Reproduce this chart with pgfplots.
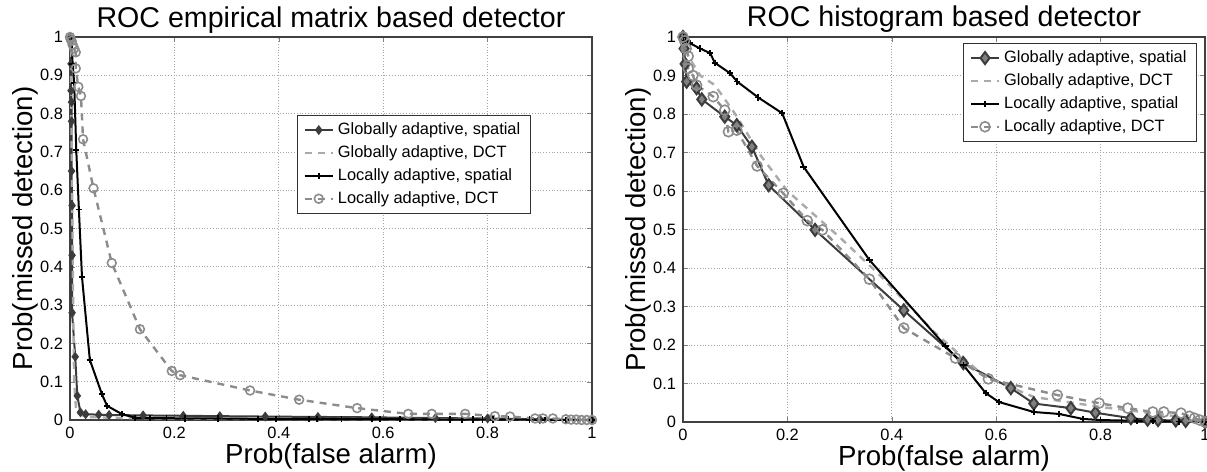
\documentclass[border=0pt]{standalone}
\usepackage{fontspec}
\setmainfont{Liberation Sans}
\usepackage{pgfplots}
\pgfplotsset{compat=1.18}

\definecolor{gaspat}{HTML}{3C3C3C}
\definecolor{gadct}{HTML}{AAAAAA}
\definecolor{ladct}{HTML}{8C8C8C}

\pgfplotsset{
  rocaxis/.style={
    scale only axis,
    width=261pt,
    xmin=0, xmax=1, ymin=0, ymax=1,
    xtick={0,0.2,...,1},
    ytick={0,0.1,...,1},
    /pgf/number format/assume math mode=true,
    tick label style={font=\fontsize{8.2}{9}\selectfont},
    tick align=inside,
    major tick length=2.5pt,
    axis line style={black!75, line width=0.6pt},
    grid=major,
    major grid style={densely dotted, gray!70, line width=0.4pt},
    every axis title shift=0pt,
    title style={font=\fontsize{14.3}{16}\selectfont, anchor=base},
    xlabel style={font=\fontsize{13.8}{16}\selectfont, anchor=base, at={(axis description cs:0.5,-0.1123)}},
    xlabel={Prob(false alarm)},
    ylabel={Prob(missed detection)},
    legend cell align=left,
    legend style={font=\fontsize{8.2}{9.5}\selectfont, draw=black!80, line width=0.5pt,
      inner xsep=3pt, inner ysep=1.5pt, anchor=north west},
    legend image code/.code={
      \draw[mark repeat=2,mark phase=2] plot coordinates {(0pt,0pt) (7pt,0pt) (14pt,0pt)};},
  },
  gasp/.style={gaspat, line width=1pt, mark=diamond*, mark options={solid, fill=gaspat}},
  gadc/.style={gadct, line width=1.2pt, dash pattern=on 3.5pt off 3pt},
  lasp/.style={black, line width=1pt, mark=+, mark size=1.6pt, mark options={solid, line width=0.8pt}},
  ladc/.style={ladct, line width=1.2pt, dash pattern=on 3.5pt off 3pt, mark=o, mark options={solid, line width=0.8pt}},
}

\begin{document}
\begin{tikzpicture}
\path[use as bounding box] (-35pt,-26pt) rectangle (568.5pt,210pt);

% left: empirical matrix based detector
\begin{axis}[
  rocaxis,
  at={(0pt,0pt)}, anchor=south west,
  height=191.5pt,
  title={ROC empirical matrix based detector},
  title style={at={(axis description cs:0.5,1.026)}},
  ylabel style={font=\fontsize{13.8}{16}\selectfont, anchor=base, at={(axis description cs:-0.0709,0.5)}},
  legend style={at={(axis description cs:0.435,0.796)}},
]
\addplot+[gasp, mark size=1.7pt] coordinates {
  (0,1) (0.002,0.93) (0.002,0.86) (0.003,0.83) (0.003,0.78) (0.003,0.65) (0.004,0.56)
  (0.004,0.43) (0.004,0.28) (0.010,0.165) (0.014,0.063) (0.02,0.02) (0.03,0.015)
  (0.055,0.014) (0.075,0.013) (0.14,0.012) (0.217,0.011) (0.287,0.010) (0.374,0.009)
  (0.475,0.008) (0.578,0.007) (0.70,0.005) (0.80,0.004) (0.90,0.002) (1,0)
};
\addlegendentry{Globally adaptive, spatial}
\addplot+[gadc, mark=none] coordinates {
  (0,1) (0.002,0.9) (0.004,0.6) (0.006,0.3) (0.008,0.1) (0.012,0.02) (0.03,0.008)
  (0.1,0.005) (0.3,0.003) (0.6,0.002) (1,0)
};
\addlegendentry{Globally adaptive, DCT}
\addplot+[lasp] coordinates {
  (0.003,1) (0.005,0.93) (0.008,0.88) (0.012,0.705) (0.017,0.55) (0.023,0.373)
  (0.038,0.157) (0.061,0.068) (0.071,0.037) (0.10,0.015) (0.125,0.006) (0.153,0.005)
  (0.185,0.005) (0.22,0.004) (0.284,0.004) (0.36,0.003) (0.395,0.003) (0.458,0.003)
  (0.473,0.003) (0.52,0.002) (0.578,0.002) (0.594,0.002) (0.632,0.002) (0.728,0.001)
  (0.751,0.001) (0.772,0.001) (0.79,0.001) (0.81,0.001) (0.84,0.001) (0.88,0.001)
  (0.91,0) (0.95,0) (1,0)
};
\addlegendentry{Locally adaptive, spatial}
\addplot+[ladc, mark size=2.2pt] coordinates {
  (0,1) (0.001,0.995) (0.003,0.99) (0.005,0.98) (0.008,0.97) (0.011,0.96) (0.011,0.918)
  (0.016,0.87) (0.021,0.846) (0.025,0.733) (0.045,0.605) (0.08,0.41) (0.134,0.237)
  (0.195,0.128) (0.211,0.117) (0.345,0.077) (0.439,0.053) (0.55,0.031) (0.648,0.016)
  (0.693,0.016) (0.757,0.016) (0.814,0.010) (0.843,0.009) (0.891,0.004) (0.906,0.004)
  (0.925,0.004) (0.95,0.002) (0.96,0.001) (0.97,0.001) (0.98,0) (0.99,0) (1,0)
};
\addlegendentry{Locally adaptive, DCT}
\end{axis}

% right: histogram based detector
\begin{axis}[
  rocaxis,
  at={(306.5pt,-1pt)}, anchor=south west,
  height=192.5pt,
  title={ROC histogram based detector},
  title style={at={(axis description cs:0.5,1.026)}},
  ylabel style={font=\fontsize{13.8}{16}\selectfont, anchor=base, at={(axis description cs:-0.0728,0.5)}},
  legend style={at={(axis description cs:0.537,0.984)}},
]
\addplot+[gasp, mark size=3pt, mark options={solid, fill=gray, draw=gaspat}] coordinates {
  (0,1) (0.002,0.97) (0.004,0.93) (0.007,0.884) (0.026,0.867) (0.036,0.838) (0.08,0.793)
  (0.103,0.771) (0.132,0.715) (0.164,0.615) (0.253,0.499) (0.423,0.29) (0.537,0.153)
  (0.628,0.088) (0.672,0.048) (0.743,0.036) (0.79,0.024) (0.858,0.010) (0.89,0.006)
  (0.91,0.005) (0.944,0.004) (0.963,0.003) (1,0)
};
\addlegendentry{Globally adaptive, spatial}
\addplot+[gadc, mark=none] coordinates {
  (0,1) (0.01,0.95) (0.033,0.9) (0.061,0.875) (0.10,0.80) (0.15,0.69) (0.20,0.60)
  (0.30,0.48) (0.378,0.38) (0.449,0.28) (0.48,0.235) (0.576,0.12) (0.672,0.065)
  (0.80,0.039) (0.929,0.018) (1,0)
};
\addlegendentry{Globally adaptive, DCT}
\addplot+[lasp] coordinates {
  (0.001,1) (0.005,0.99) (0.013,0.984) (0.033,0.97) (0.052,0.958) (0.061,0.933)
  (0.09,0.906) (0.104,0.884) (0.144,0.843) (0.19,0.802) (0.231,0.663) (0.357,0.421)
  (0.503,0.197) (0.537,0.148) (0.58,0.075) (0.605,0.052) (0.672,0.026) (0.72,0.021)
  (0.766,0.008) (0.80,0.005) (0.84,0.004) (0.87,0.003) (0.90,0.002) (0.95,0.001) (1,0)
};
\addlegendentry{Locally adaptive, spatial}
\addplot+[ladc, mark size=2.5pt] coordinates {
  (0,1) (0.003,0.99) (0.006,0.97) (0.01,0.95) (0.01,0.918) (0.019,0.9) (0.026,0.875)
  (0.058,0.845) (0.08,0.81) (0.087,0.754) (0.103,0.758) (0.142,0.665) (0.192,0.594)
  (0.238,0.523) (0.267,0.499) (0.357,0.371) (0.423,0.244) (0.522,0.166) (0.585,0.112)
  (0.717,0.07) (0.797,0.049) (0.852,0.036) (0.90,0.026) (0.921,0.026) (0.954,0.023)
  (0.97,0.015) (0.98,0.010) (0.99,0.005) (1,0)
};
\addlegendentry{Locally adaptive, DCT}
\end{axis}
\end{tikzpicture}
\end{document}
